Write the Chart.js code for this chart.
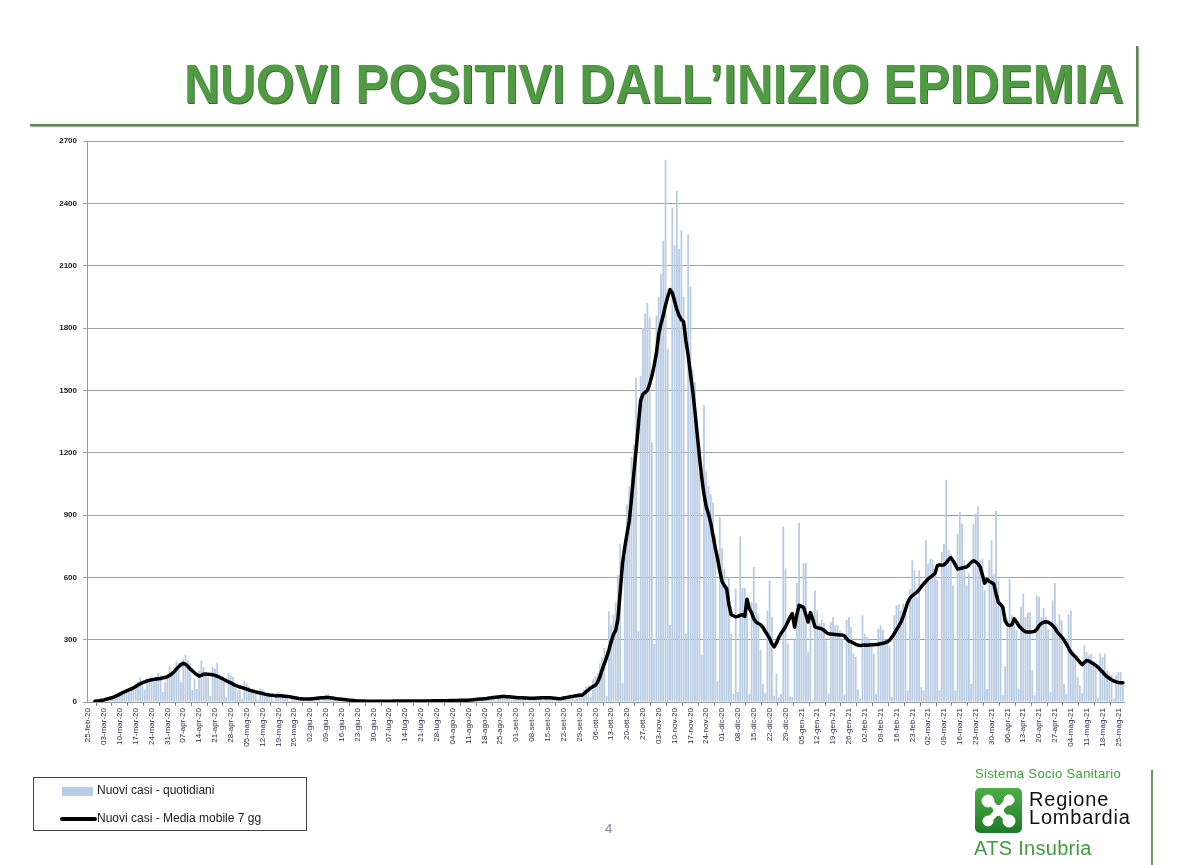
<!DOCTYPE html>
<html lang="it">
<head>
<meta charset="utf-8">
<title>Nuovi positivi dall'inizio epidemia</title>
<script src="https://cdn.jsdelivr.net/npm/chart.js@4.4.1/dist/chart.umd.min.js"></script>
<style>
  html, body { margin: 0; padding: 0; background: #fff; }
  body { width: 1178px; height: 865px; position: relative; overflow: hidden;
         font-family: "Liberation Sans", Arial, sans-serif; }
  #cornice { position: absolute; left: 30px; top: 46px; width: 1106px; height: 78px;
             border-right: 2px solid #5b8c4c; border-bottom: 2px solid #5b8c4c;
             box-shadow: 1px 1px 1px #9aa89a; }
  #titolo { position: absolute; right: 54px; top: 54px; white-space: nowrap;
            font-family: "Liberation Sans Narrow", "Arial Narrow", "Liberation Sans", sans-serif;
            font-weight: bold; font-size: 55px; line-height: 60px; color: #4f9a43;
            text-shadow: 1px 1px 0 #3b6c33; transform-origin: right center; }
  #grafico { position: absolute; left: 0; top: 130px; }
  #legenda { position: absolute; left: 33px; top: 777px; width: 272px; height: 52px;
             border: 1px solid #444; font-size: 12px; color: #1a1a1a; }
  #legenda .testo { position: absolute; left: 63px; white-space: nowrap; }
  #legenda .barra { position: absolute; left: 28px; top: 9px; width: 31px; height: 9px; background: #b8cce4; }
  #legenda .linea { position: absolute; left: 26px; top: 39px; width: 37px; height: 4px; background: #000; border-radius: 2px; }
  #pagina { position: absolute; left: 605px; top: 821px; font-size: 13px; color: #888; }
  #logo .verde { color: #3f9c3a; position: absolute; white-space: nowrap; }
  #sss { left: 975px; top: 766px; font-size: 13px; letter-spacing: 0.35px; }
  #ats { left: 974px; top: 837px; font-size: 20px; letter-spacing: 0.3px; }
  #regione { position: absolute; left: 1029px; top: 790px; font-size: 20px; line-height: 18px;
             color: #111; letter-spacing: 0.8px; }
  #stemma { position: absolute; left: 975px; top: 788px; }
  #filetto { position: absolute; left: 1151px; top: 770px; width: 2px; height: 95px; background: #6a9a5a; }
</style>
</head>
<body>
<div id="cornice"></div>
<div id="titolo">NUOVI POSITIVI DALL’INIZIO EPIDEMIA</div>
<canvas id="grafico" width="1150" height="650"></canvas>

<div id="legenda">
  <span class="barra"></span><span class="testo" style="top:5px">Nuovi casi - quotidiani</span>
  <span class="linea"></span><span class="testo" style="top:33px">Nuovi casi - Media mobile 7 gg</span>
</div>
<div id="pagina">4</div>

<div id="logo">
  <div id="sss" class="verde">Sistema Socio Sanitario</div>
  <svg id="stemma" width="47" height="45" viewBox="0 0 47 45">
    <defs>
      <linearGradient id="gv" x1="0" y1="0" x2="0" y2="1">
        <stop offset="0" stop-color="#4cae45"/>
        <stop offset="1" stop-color="#1f7a2a"/>
      </linearGradient>
    </defs>
    <rect x="0" y="0" width="47" height="45" rx="5" fill="url(#gv)"/>
    <g fill="#fff" stroke="#fff">
      <path d="M14 13 L33 32 M33 13 L14 32" stroke-width="6" stroke-linecap="round"/>
      <circle cx="13" cy="13" r="6"/>
      <circle cx="34" cy="12" r="5"/>
      <circle cx="13" cy="33" r="5"/>
      <circle cx="34" cy="33" r="6"/>
      <circle cx="23.5" cy="22.5" r="5"/>
    </g>
  </svg>
  <div id="regione">Regione<br>Lombardia</div>
  <div id="ats" class="verde">ATS Insubria</div>
  <div id="filetto"></div>
</div>

<script>
// primo giorno della serie: 25 febbraio 2020 (un valore al giorno)
const inizio = Date.UTC(2020, 1, 25);
const mesi = ["gen", "feb", "mar", "apr", "mag", "giu", "lug", "ago", "set", "ott", "nov", "dic"];

// nuovi casi quotidiani, una riga per settimana (mar -> lun)
const nuoviCasi = [
  0, 2, 5, 4, 6, 3, 10,
  12, 15, 18, 24, 20, 26, 40,
  42, 50, 46, 60, 52, 58, 72,
  80, 95, 118, 85, 60, 112, 115,
  118, 110, 122, 140, 130, 48, 95,
  125, 175, 150, 165, 195, 188, 95,
  205, 228, 200, 185, 58, 110, 62,
  150, 200, 168, 145, 120, 30, 170,
  160, 190, 135, 120, 110, 25, 140,
  130, 120, 70, 55, 60, 15, 100,
  90, 75, 60, 50, 40, 10, 65,
  62, 50, 40, 35, 30, 8, 45,
  48, 42, 38, 30, 22, 6, 28,
  25, 22, 18, 20, 15, 4, 12,
  8, 20, 22, 25, 24, 6, 22,
  35, 40, 28, 22, 18, 5, 15,
  20, 15, 12, 10, 8, 3, 6,
  6, 5, 7, 4, 5, 1, 4,
  5, 4, 6, 3, 5, 1, 4,
  4, 6, 5, 6, 4, 2, 5,
  6, 5, 7, 4, 6, 1, 5,
  5, 6, 5, 7, 6, 2, 6,
  7, 6, 8, 5, 7, 2, 6,
  8, 7, 9, 10, 8, 3, 7,
  10, 12, 14, 15, 16, 5, 12,
  20, 22, 25, 28, 24, 8, 30,
  30, 38, 32, 28, 26, 10, 22,
  25, 24, 22, 20, 22, 8, 18,
  20, 22, 18, 24, 20, 8, 26,
  28, 24, 20, 18, 16, 6, 20,
  26, 30, 25, 35, 34, 12, 38,
  45, 42, 60, 75, 80, 26, 110,
  122, 140, 185, 215, 260, 30, 437,
  370, 420, 480, 610, 760, 90, 700,
  950, 1040, 1180, 1240, 1560, 340, 1570,
  1800, 1870, 1920, 1850, 1250, 280, 1860,
  1950, 2060, 2220, 2610, 1700, 370, 2380,
  2200, 2460, 2180, 2270, 1950, 330, 2250,
  2000, 1600, 1540, 1300, 1100, 228, 1430,
  1110, 1040, 1000, 960, 800, 99, 890,
  740, 640, 560, 600, 330, 40, 545,
  48, 797, 550, 550, 497, 40, 481,
  650, 476, 425, 250, 88, 43, 441,
  585, 409, 30, 136, 24, 40, 845,
  642, 281, 27, 24, 300, 573, 861,
  473, 669, 669, 240, 400, 8, 537,
  441, 377, 396, 380, 297, 40, 385,
  409, 369, 369, 345, 300, 37, 396,
  409, 361, 236, 217, 60, 16, 417,
  326, 313, 300, 289, 233, 40, 353,
  369, 345, 300, 281, 268, 24, 417,
  465, 470, 440, 473, 425, 56, 545,
  682, 634, 505, 634, 72, 56, 778,
  666, 690, 685, 620, 589, 56, 722,
  762, 1070, 730, 714, 561, 56, 810,
  914, 858, 682, 561, 618, 88, 858,
  906, 942, 682, 690, 537, 64, 682,
  778, 618, 922, 585, 473, 32, 172,
  401, 593, 417, 377, 345, 64, 457,
  521, 409, 430, 433, 152, 32, 513,
  505, 409, 454, 409, 350, 48, 489,
  573, 377, 422, 393, 88, 40, 422,
  441, 249, 208, 120, 80, 43, 273,
  240, 225, 233, 200, 180, 21, 233,
  217, 233, 152, 136, 130, 16, 128,
  144, 144, 88
];

// media mobile a 7 giorni, stesse righe settimanali
const mediaMobile = [
  null, null, null, 4, 5, 6, 8,
  10, 13, 16, 19, 22, 27, 32,
  38, 44, 49, 54, 58, 63, 68,
  75, 82, 88, 93, 97, 101, 104,
  107, 109, 111, 112, 113, 116, 118,
  122, 128, 136, 146, 158, 170, 180,
  186, 182, 172, 160, 150, 140, 132,
  125, 128, 134, 135, 133, 132, 131,
  128, 124, 119, 114, 108, 102, 97,
  92, 86, 80, 76, 72, 69, 66,
  62, 58, 55, 52, 49, 46, 43,
  41, 38, 36, 34, 33, 31, 30,
  30, 30, 29, 28, 27, 25, 23,
  21, 19, 17, 16, 15, 15, 14,
  15, 16, 17, 18, 19, 20, 21,
  22, 22, 21, 19, 17, 15, 14,
  13, 12, 11, 9, 8, 7, 6,
  5, 5, 5, 5, 4, 4, 4,
  4, 4, 4, 4, 4, 4, 4,
  4, 4, 5, 5, 5, 5, 5,
  5, 5, 5, 5, 5, 5, 5,
  5, 5, 5, 5, 5, 6, 6,
  6, 6, 6, 6, 6, 6, 7,
  7, 7, 7, 8, 8, 8, 9,
  9, 10, 11, 12, 13, 14, 15,
  16, 17, 19, 20, 22, 23, 24,
  25, 26, 26, 25, 25, 24, 23,
  22, 21, 21, 20, 19, 19, 18,
  18, 18, 19, 19, 20, 20, 21,
  21, 20, 19, 18, 17, 16, 17,
  19, 21, 23, 25, 27, 29, 31,
  32, 32, 40, 50, 58, 68, 75,
  80, 95, 120, 155, 185, 215, 250,
  290, 325, 345, 400, 530, 665, 745,
  810, 871, 980, 1100, 1210, 1330, 1450,
  1480, 1490, 1500, 1530, 1570, 1620, 1680,
  1770, 1820, 1860, 1910, 1950, 1985, 1970,
  1930, 1890, 1860, 1840, 1830, 1740, 1670,
  1580, 1500, 1400, 1290, 1180, 1080, 1000,
  940, 905, 860, 800, 740, 690, 630,
  580, 560, 545, 470, 420, 415, 410,
  412, 418, 420, 412, 495, 450, 430,
  400, 385, 378, 372, 360, 340, 325,
  305, 280, 265, 285, 310, 330, 345,
  362, 385, 408, 425, 360, 420, 465,
  460, 455, 420, 385, 430, 400, 362,
  358, 355, 352, 345, 335, 328, 327,
  326, 325, 324, 323, 322, 318, 305,
  293, 290, 284, 278, 273, 272, 273,
  274, 273, 274, 275, 276, 277, 278,
  280, 283, 286, 290, 298, 312, 328,
  348, 365, 385, 412, 445, 480, 500,
  512, 520, 528, 540, 555, 568, 580,
  593, 600, 610, 618, 655, 660, 658,
  660, 670, 685, 695, 680, 660, 640,
  642, 645, 648, 650, 660, 672, 680,
  675, 665, 650, 610, 572, 590, 580,
  575, 568, 520, 480, 470, 455, 390,
  372, 368, 372, 400, 385, 368, 355,
  345, 338, 337, 337, 338, 340, 350,
  368, 378, 384, 386, 384, 378, 368,
  355, 338, 325, 313, 298, 280, 260,
  240, 228, 218, 205, 192, 180, 190,
  200, 197, 190, 184, 176, 168, 155,
  145, 132, 122, 114, 107, 101, 97,
  94, 93, 93
];

const tickY = [0, 300, 600, 900, 1200, 1500, 1800, 2100, 2400, 2700];
const passoEtichette = 7; // un'etichetta a settimana

const giorni = nuoviCasi.map((_, i) => {
  const d = new Date(inizio + i * 86400000);
  const gg = String(d.getUTCDate()).padStart(2, "0");
  return gg + "-" + mesi[d.getUTCMonth()] + "-" + String(d.getUTCFullYear()).slice(2);
});

// titolo: stringo il testo alla larghezza dell'originale
const titolo = document.getElementById("titolo");
const largo = titolo.getBoundingClientRect().width;
titolo.style.transform = "scaleX(" + (940 / largo) + ")";

Chart.defaults.font.family = '"Liberation Sans", Arial, sans-serif';

new Chart(document.getElementById("grafico"), {
  data: {
    labels: giorni,
    datasets: [
      {
        type: "line",
        label: "Nuovi casi - Media mobile 7 gg",
        data: mediaMobile,
        borderColor: "#000",
        borderWidth: 3.5,
        pointRadius: 0,
        tension: 0,
        borderJoinStyle: "round",
        borderCapStyle: "round",
        order: 1
      },
      {
        type: "bar",
        label: "Nuovi casi - quotidiani",
        data: nuoviCasi,
        backgroundColor: "#b8cce4",
        barPercentage: 0.8,
        categoryPercentage: 1,
        order: 2
      }
    ]
  },
  options: {
    responsive: false,
    animation: false,
    layout: { padding: { top: 11, right: 26, left: 0, bottom: 0 } },
    plugins: { legend: { display: false } },
    scales: {
      x: {
        afterFit: (s) => { s.height = 78; },
        grid: { display: true, drawOnChartArea: false, tickLength: 4, color: "#8c8c8c" },
        border: { color: "#9a9a9a" },
        ticks: {
          autoSkip: false,
          minRotation: 90,
          maxRotation: 90,
          padding: 2,
          color: "#2d2d4a",
          font: { size: 8 },
          callback: (v, i) => (i % passoEtichette === 0 ? giorni[i] : null)
        }
      },
      y: {
        min: 0,
        max: 2700,
        afterFit: (s) => { s.width = 87; },
        afterBuildTicks: (s) => { s.ticks = tickY.map((v) => ({ value: v })); },
        grid: { color: "#a0a0a0", tickLength: 4 },
        border: { color: "#9a9a9a" },
        ticks: {
          color: "#1a1a1a",
          padding: 6,
          font: { size: 8, weight: "bold" },
          callback: (v) => String(v)
        }
      }
    }
  }
});
</script>
</body>
</html>
